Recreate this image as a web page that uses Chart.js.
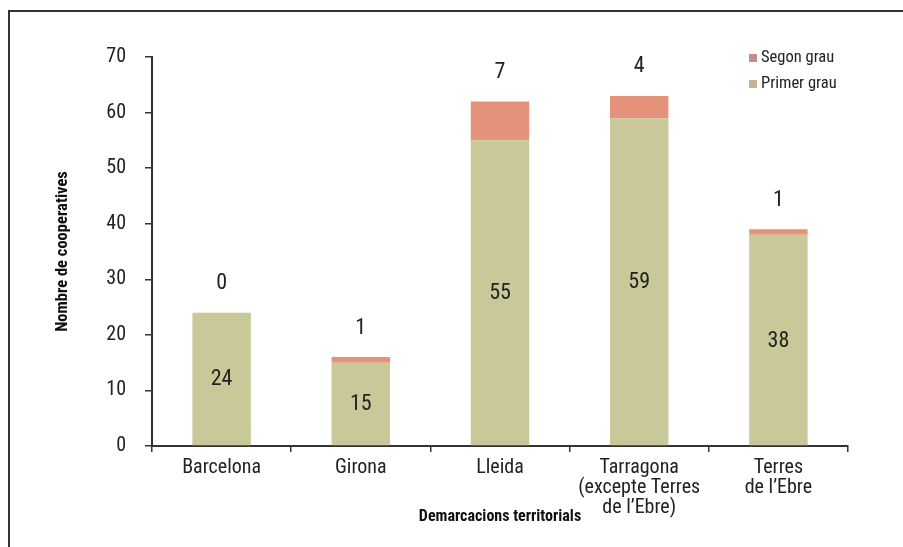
<!DOCTYPE html>
<html>
<head>
<meta charset="utf-8">
<script src="https://cdn.jsdelivr.net/npm/chart.js@4/dist/chart.umd.min.js"></script>
<style>
  html, body { margin: 0; padding: 0; background: #fff; }
  #wrap { position: relative; width: 903px; height: 547px; }
  #frame { position: absolute; left: 8px; top: 10px; right: 0; bottom: 0; border-left: 2px solid #333; border-top: 2px solid #333; }
  canvas { position: absolute; left: 0; top: 0; }
</style>
</head>
<body>
<div id="wrap">
  <div id="frame"></div>
  <canvas id="chart" width="903" height="547"></canvas>
</div>
<script>
// dades
var categories = [
    'Barcelona',
    'Girona',
    'Lleida',
    ['Tarragona', '(excepte Terres', 'de l\u2019Ebre)'],
    ['Terres', 'de l\u2019Ebre']
];
var primerGrau = [24, 15, 55, 59, 38];
var segonGrau = [0, 1, 7, 4, 1];
var yTicks = [0, 10, 20, 30, 40, 50, 60, 70];

var FONT = "'Liberation Sans Narrow', 'Roboto Condensed', 'DejaVu Sans Condensed', 'Arial Narrow', sans-serif";
var green = 'rgb(200, 200, 152)';
var salmon = 'rgb(228, 146, 122)';

// etichete + legenda
var labelsPlugin = {
    id: 'barLabels',
    afterDatasetsDraw: function(chart) {
        var ctx = chart.ctx;
        ctx.save();
        ctx.font = '22px ' + FONT;
        ctx.fillStyle = '#222';
        ctx.textAlign = 'center';
        ctx.textBaseline = 'middle';
        var m0 = chart.getDatasetMeta(0);
        var m1 = chart.getDatasetMeta(1);
        m0.data.forEach(function(bar, i) {
            ctx.fillText(primerGrau[i], bar.x, (bar.y + bar.base) / 2 + 1);
        });
        m1.data.forEach(function(bar, i) {
            ctx.fillText(segonGrau[i], bar.x, bar.y - 29);
        });

        // legend, reversed order
        var area = chart.chartArea;
        var lx = area.right - 99, ly = area.top + 1;
        var items = chart.data.datasets.slice().reverse();
        ctx.font = '16.5px ' + FONT;
        ctx.textAlign = 'left';
        items.forEach(function(ds, k) {
            var y = ly + k * 26;
            ctx.fillStyle = ds.legendColor;
            ctx.fillRect(lx, y - 4, 8, 8);
            ctx.fillStyle = '#222';
            ctx.fillText(ds.label, lx + 12, y);
        });
        ctx.restore();
    }
};

var ctx = document.getElementById('chart').getContext('2d');
var myChart = new Chart(ctx, {
    type: 'bar',
    data: {
        labels: categories,
        datasets: [{
            label: 'Primer grau',
            data: primerGrau,
            backgroundColor: green,
            legendColor: 'rgb(196, 180, 150)',
            categoryPercentage: 1,
            barPercentage: 0.42
        }, {
            label: 'Segon grau',
            data: segonGrau,
            backgroundColor: salmon,
            legendColor: 'rgb(196, 140, 140)',
            categoryPercentage: 1,
            barPercentage: 0.42
        }]
    },
    options: {
        responsive: false,
        animation: false,
        layout: { padding: { left: 10, top: 57, right: 55, bottom: 20 } },
        plugins: { legend: { display: false }, tooltip: { enabled: false } },
        scales: {
            x: {
                stacked: true,
                grid: { drawOnChartArea: false, tickLength: 6, color: '#333', lineWidth: 1.5 },
                border: { color: '#333', width: 2 },
                ticks: { color: '#222', font: { family: FONT, size: 20, lineHeight: 1.0 }, padding: 6, maxRotation: 0, autoSkip: false },
                title: { display: true, text: 'Demarcacions territorials', color: '#111', font: { family: FONT, size: 16, weight: 'bold' }, padding: { top: 0, bottom: 0 } },
                afterFit: function(scale) { scale.height = 81; }
            },
            y: {
                stacked: true,
                min: 0,
                max: 70,
                afterBuildTicks: function(scale) {
                    scale.ticks = yTicks.map(function(v) { return { value: v }; });
                },
                grid: { drawOnChartArea: false, tickLength: 7, color: '#333', lineWidth: 1.5 },
                border: { color: '#333', width: 2 },
                ticks: { color: '#222', font: { family: FONT, size: 20 }, padding: 19 },
                title: { display: true, text: 'Nombre de cooperatives', color: '#111', font: { family: FONT, size: 16.5, weight: 'bold' }, padding: { top: 43, bottom: 0 } },
                afterFit: function(scale) { scale.width = 142; }
            }
        }
    },
    plugins: [labelsPlugin]
});
</script>
</body>
</html>
